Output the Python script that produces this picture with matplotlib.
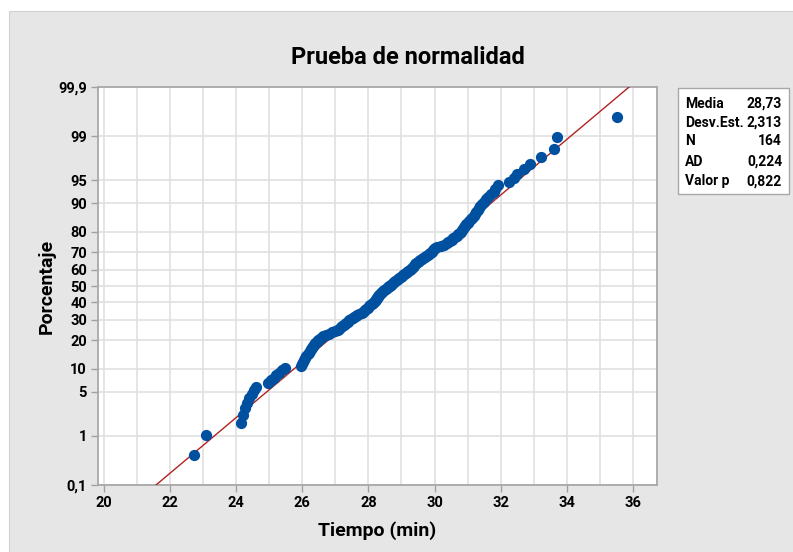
import matplotlib
matplotlib.use("Agg")
import matplotlib.pyplot as plt
from matplotlib.patches import Rectangle
from statistics import NormalDist
import numpy as np

# tiempos ordenados
tiempo = [22.72, 23.1, 24.15, 24.2, 24.27, 24.33, 24.4, 24.48, 24.55, 24.6,
          24.97, 25.06, 25.14, 25.22, 25.3, 25.4, 25.48,
          25.95, 25.98, 26.02, 26.06, 26.09, 26.12, 26.16, 26.2,
          26.24, 26.27, 26.3, 26.33, 26.37, 26.4, 26.44, 26.48, 26.53, 26.58, 26.64, 26.72, 26.8, 26.9,
          27.0, 27.07, 27.12, 27.17, 27.21, 27.25, 27.29, 27.33, 27.37, 27.42, 27.47, 27.52, 27.57,
          27.62, 27.67, 27.73, 27.8,
          27.84, 27.87, 27.9, 27.94, 27.98, 28.02, 28.06, 28.1, 28.13, 28.16, 28.19, 28.22, 28.24,
          28.26, 28.28, 28.3, 28.32, 28.34, 28.37,
          28.4, 28.44, 28.48, 28.52, 28.56, 28.6, 28.63, 28.66, 28.69, 28.72, 28.75, 28.78, 28.81,
          28.85, 28.89, 28.93, 28.97, 29.01, 29.05, 29.09, 29.13, 29.17, 29.21, 29.25,
          29.3, 29.33, 29.36, 29.39, 29.42, 29.45, 29.49, 29.53, 29.57, 29.61, 29.66, 29.71, 29.75,
          29.79, 29.83, 29.87, 29.91, 29.95, 29.99, 30.02,
          30.08, 30.18, 30.28, 30.36, 30.42, 30.47, 30.52, 30.57, 30.62, 30.67, 30.72, 30.76, 30.8,
          30.84, 30.87, 30.9, 30.93, 30.96, 31.0, 31.05,
          31.1, 31.14, 31.18, 31.21, 31.25, 31.3, 31.34, 31.38, 31.44, 31.5, 31.56, 31.62, 31.7,
          31.78, 31.84, 31.92,
          32.25, 32.4, 32.5, 32.7, 32.88, 33.22, 33.62, 33.7, 35.5]

media = 28.73
desv = 2.313
stat_labels = ["Media", "Desv.Est.", "N", "AD", "Valor p"]
stat_values = ["28,73", "2,313", "164", "0,224", "0,822"]

pct_ticks = [0.1, 1, 5, 10, 20, 30, 40, 50, 60, 70, 80, 90, 95, 99, 99.9]
pct_labels = ["0,1", "1", "5", "10", "20", "30", "40", "50", "60", "70", "80", "90", "95", "99", "99,9"]
x_ticks = [20, 22, 24, 26, 28, 30, 32, 34, 36]

nd = NormalDist()
n = len(tiempo)
# posiciones de graficacion (rangos medianos, como Minitab)
z_pts = [nd.inv_cdf((i - 0.3) / (n + 0.4)) for i in range(1, n + 1)]
z_ticks = [nd.inv_cdf(p / 100) for p in pct_ticks]

plt.rcParams['font.family'] = ['Roboto', 'DejaVu Sans']
plt.rcParams['font.weight'] = 'bold'

fig = plt.figure(figsize=(7.93, 5.52), dpi=100)
fig.patch.set_facecolor('white')
fig.patches.append(Rectangle((9 / 793, 0), 1, 541 / 552, transform=fig.transFigure,
                             facecolor='#e6e6e6', edgecolor='#d0d0d0', lw=0.8, zorder=-10))

ax = fig.add_axes([98 / 793, 1 - 485 / 552, (657 - 98) / 793, (485 - 87) / 552])
ax.set_facecolor('white')

zmin, zmax = z_ticks[0], z_ticks[-1]
ax.plot([media + desv * zmin, media + desv * zmax], [zmin, zmax], color='#b22222', lw=1.0, zorder=3)
ax.scatter(tiempo, z_pts, s=50, color='#0050a0', edgecolors='#0050a0', zorder=4)

ax.set_xlim(19.83, 36.72)
ax.set_ylim(zmin, zmax)
ax.set_xticks(x_ticks)
ax.set_xticklabels([str(t) for t in x_ticks])
ax.set_xticks(np.arange(20, 37, 1), minor=True)
ax.set_yticks(z_ticks)
ax.set_yticklabels(pct_labels)

ax.grid(True, which='both', axis='x', color='#e0e0e0', lw=1.2, zorder=0)
ax.grid(True, which='major', axis='y', color='#e0e0e0', lw=1.2, zorder=0)
ax.set_axisbelow(True)
ax.tick_params(axis='x', which='minor', length=0)
ax.tick_params(axis='both', which='major', color='#a0a0a0', length=5, width=1,
               labelsize=10.5, pad=3)
for lab in ax.get_xticklabels() + ax.get_yticklabels():
    lab.set_fontweight('bold')
for sp in ax.spines.values():
    sp.set_color('#a8a8a8')
    sp.set_linewidth(1.3)

ax.set_xlabel("Tiempo (min)", fontsize=14, fontweight='bold', labelpad=8)
ax.set_ylabel("Porcentaje", fontsize=14, fontweight='bold', labelpad=2)
fig.text(408 / 793, 1 - 57 / 552, "Prueba de normalidad", ha='center', va='center',
         fontsize=17, fontweight='bold')

# cuadro de estadisticos
fig.patches.append(Rectangle((678 / 793, 1 - 194 / 552), (789 - 678) / 793, (194 - 88) / 552,
                             transform=fig.transFigure, facecolor='white',
                             edgecolor='#a8a8a8', lw=1.0))
row_y = [104, 123, 141, 161.5, 181.5]
for lab, val, yy in zip(stat_labels, stat_values, row_y):
    fig.text(685 / 793, 1 - yy / 552, lab, ha='left', va='center', fontsize=10, fontweight='bold')
    fig.text(782 / 793, 1 - yy / 552, val, ha='right', va='center', fontsize=10, fontweight='bold')

fig.savefig("out.png", dpi=100, facecolor=fig.get_facecolor())
